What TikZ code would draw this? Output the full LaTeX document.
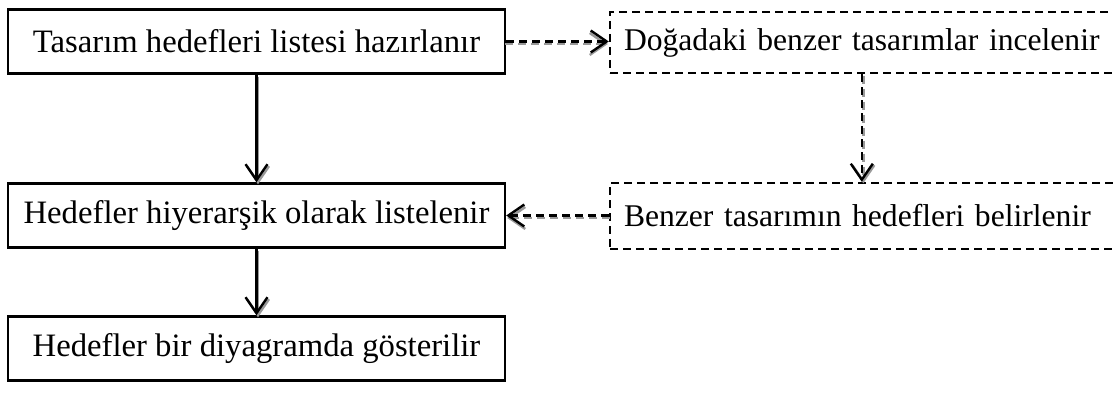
\documentclass[tikz,border=0pt]{standalone}
\usepackage{fontspec}
\setmainfont{Liberation Serif}
\usetikzlibrary{arrows.meta}
\begin{document}
\begin{tikzpicture}[x=1pt,y=-1pt,
  txt/.style={font=\fontsize{32.7}{37}\selectfont},
  solidbox/.style={txt, draw, line width=2.4pt, minimum width=497pt, minimum height=64pt, inner sep=0pt},
  dashbox/.style={font=\fontsize{31.6}{36}\selectfont, draw, line width=2.4pt, dash pattern=on 8pt off 5pt, text width=600pt, align=left, inner xsep=14pt, inner ysep=0pt},
  arr/.style={line width=2.4pt, -{Straight Barb[length=16pt,width=22pt,line width=2.4pt]}},
  darr/.style={arr, dash pattern=on 8pt off 5pt},
  shade/.style={draw=black!40}
]
\path[use as bounding box, clip] (0,0) rectangle (1113,412);

\node[solidbox] (b1) at (256.5,41.5) {Tasarım hedefleri listesi hazırlanır};
\node[solidbox] (b3) at (256.5,215.5) {Hedefler hiyerarşik olarak listelenir};
\node[solidbox] (b5) at (256.5,348.5) {Hedefler bir diyagramda gösterilir};
\node[dashbox, minimum height=61pt] (b2) at (924,42.5) {Doğadaki benzer tasarımlar incelenir};
\node[dashbox, minimum height=66pt] (b4) at (924,216) {Benzer tasarımın hedefleri belirlenir};

\coordinate (c2) at ([xshift=253pt]b2.south west);
\coordinate (c4) at ([xshift=253pt]b4.north west);

% shadows
\draw[arr, shade] ([shift={(1.5,2)}]b1.south) -- ([shift={(1.5,2)}]b3.north);
\draw[arr, shade] ([shift={(1.5,2)}]b3.south) -- ([shift={(1.5,2)}]b5.north);
\draw[darr, shade] ([shift={(-1,2.5)}]b1.east) -- ([shift={(-1,2.5)}]b1.east -| b2.west);
\draw[darr, shade] ([shift={(1.5,1.5)}]c2) -- ([shift={(1.5,1.5)}]c4);
\draw[darr, shade] ([shift={(1,2.5)}]b3.east -| b4.west) -- ([shift={(1,2.5)}]b3.east);

% connectors
\draw[arr] (b1.south) -- (b3.north);
\draw[arr] (b3.south) -- (b5.north);
\draw[darr] (b1.east) -- (b1.east -| b2.west);
\draw[darr] (c2) -- (c4);
\draw[darr] (b3.east -| b4.west) -- (b3.east);
\end{tikzpicture}
\end{document}
